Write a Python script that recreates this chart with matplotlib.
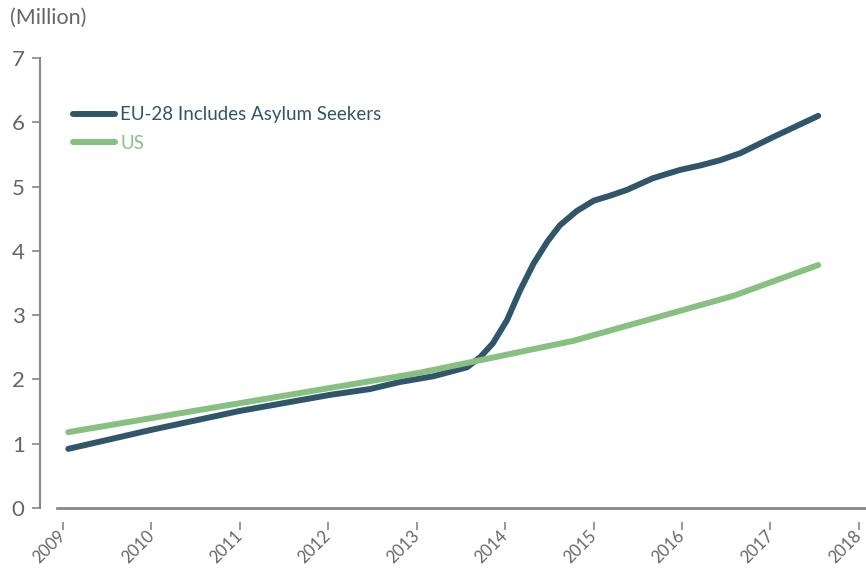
import matplotlib
matplotlib.use("Agg")
import matplotlib.pyplot as plt

# values (million)
eu_years = [2009.06, 2009.98, 2011.00, 2012.02, 2012.47, 2012.81, 2013.19, 2013.38,
            2013.57, 2013.72, 2013.86, 2014.02, 2014.17, 2014.32, 2014.48, 2014.62,
            2014.81, 2015.00, 2015.19, 2015.38, 2015.67, 2015.98, 2016.21, 2016.43,
            2016.66, 2017.03, 2017.54]
eu_values = [0.92, 1.21, 1.51, 1.76, 1.85, 1.96, 2.05, 2.12,
             2.19, 2.35, 2.56, 2.92, 3.39, 3.80, 4.15, 4.40,
             4.62, 4.78, 4.86, 4.95, 5.13, 5.26, 5.33, 5.41,
             5.52, 5.77, 6.10]
us_years = [2009.06, 2013.02, 2014.77, 2016.58, 2017.54]
us_values = [1.18, 2.10, 2.60, 3.30, 3.78]
year_ticks = list(range(2009, 2019))
value_ticks = list(range(0, 8))

EU_COLOR = "#30566a"
US_COLOR = "#88c081"
GREY = "#666666"

plt.rcParams['font.family'] = ['Lato', 'DejaVu Sans']

fig = plt.figure(figsize=(8.66, 5.69), dpi=100)
ax = fig.add_axes([40 / 866, 1 - 508 / 569, 826 / 866, 450 / 569])

ax.plot(eu_years, eu_values, color=EU_COLOR, lw=4.3, solid_capstyle='round',
        solid_joinstyle='round', label="EU-28 Includes Asylum Seekers")
ax.plot(us_years, us_values, color=US_COLOR, lw=4.3, solid_capstyle='round',
        solid_joinstyle='round', label="US")

ax.set_xlim(2008.74, 2018.08)
ax.set_ylim(0, 7)

for s in ['top', 'right']:
    ax.spines[s].set_visible(False)
ax.spines['left'].set_color('#888888')
ax.spines['left'].set_linewidth(1.5)
ax.spines['bottom'].set_color('#888888')
ax.spines['bottom'].set_linewidth(2)
ax.spines['bottom'].set_bounds(2008.93, 2018.08)

ax.set_yticks(value_ticks)
ax.tick_params(axis='y', length=6, width=1.2, color='#888888', labelcolor=GREY,
               labelsize=16, pad=5)
ax.set_xticks([])

# detached x ticks below the axis line
ax2 = ax.twiny()
ax2.set_xlim(ax.get_xlim())
ax2.xaxis.set_ticks_position('bottom')
ax2.xaxis.set_label_position('bottom')
ax2.spines['bottom'].set_position(('outward', 10))
for s in ['top', 'right', 'left', 'bottom']:
    ax2.spines[s].set_visible(False)
ax2.set_xticks(year_ticks)
ax2.set_xticklabels([str(y) for y in year_ticks], rotation=45, ha='right',
                    va='center', rotation_mode='anchor')
ax2.tick_params(axis='x', length=6, width=1.2, color='#888888', labelcolor=GREY,
                labelsize=12, pad=2)

leg = ax.legend(loc='upper left', bbox_to_anchor=(0.02, 0.93), frameon=False,
                fontsize=13.5, handlelength=2.2, handletextpad=0.3,
                labelspacing=0.6)
for text, c in zip(leg.get_texts(), [EU_COLOR, US_COLOR]):
    text.set_color(c)

fig.text(10 / 866, 1 - 18 / 569, "(Million)", fontsize=15.5, color=GREY,
         va='center', ha='left')

fig.savefig("out.png", dpi=100)
